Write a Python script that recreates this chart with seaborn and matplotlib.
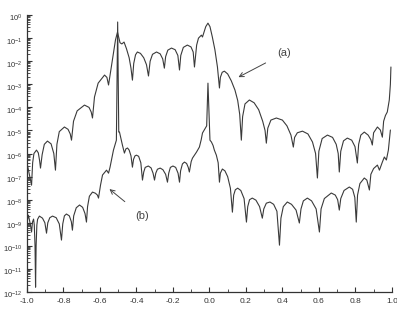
import numpy as np
import pandas as pd
import matplotlib
matplotlib.use("Agg")
import matplotlib.pyplot as plt
import matplotlib.ticker as mticker
from matplotlib.transforms import ScaledTranslation
import seaborn as sns

# ---- data: u (sine-space) and log10 of normalised power ----
u_a = [-1.0, -0.975, -0.969, -0.962, -0.948, -0.938, -0.931, -0.926,
       -0.917, -0.905, -0.888, -0.868, -0.853, -0.844,
       -0.836, -0.823, -0.795, -0.775, -0.763, -0.756,
       -0.745, -0.725, -0.685, -0.660, -0.648, -0.641,
       -0.630, -0.610, -0.575, -0.562, -0.553,
       -0.532, -0.515, -0.504, -0.490, -0.480, -0.468, -0.455, -0.440, -0.430, -0.422,
       -0.415, -0.405, -0.395, -0.378, -0.360, -0.345, -0.334,
       -0.325, -0.312, -0.290, -0.270, -0.256, -0.247,
       -0.240, -0.228, -0.208, -0.188, -0.173, -0.164,
       -0.157, -0.143, -0.121, -0.101, -0.089, -0.082,
       -0.070, -0.060, -0.044, -0.038, -0.030, -0.020, -0.008, 0.003, 0.016, 0.030, 0.044, 0.055,
       0.060, 0.070, 0.082, 0.100, 0.120, 0.140, 0.155, 0.166, 0.175,
       0.182, 0.195, 0.219, 0.245, 0.270, 0.292, 0.305, 0.312,
       0.320, 0.337, 0.367, 0.400, 0.425, 0.447, 0.460,
       0.467, 0.482, 0.510, 0.540, 0.565, 0.582, 0.592,
       0.600, 0.618, 0.647, 0.675, 0.695, 0.706, 0.712,
       0.720, 0.735, 0.756, 0.780, 0.798, 0.811,
       0.818, 0.830, 0.849, 0.870, 0.885, 0.893,
       0.900, 0.921, 0.937, 0.948,
       0.955, 0.965, 0.975, 0.986, 0.992, 0.995]
lev_a = [-6.41, -7.37, -6.40, -6.00, -5.85, -5.97, -6.30, -6.63,
         -6.05, -5.60, -5.46, -5.58, -6.00, -6.72,
         -5.60, -5.05, -4.85, -4.95, -5.15, -5.42,
         -4.60, -4.15, -3.90, -4.00, -4.20, -4.46,
         -3.55, -2.95, -2.60, -2.70, -3.03,
         -1.95, -1.08, -0.74, -1.20, -1.25, -1.17, -1.45, -1.85, -2.30, -2.82,
         -2.10, -1.72, -1.60, -1.66, -1.85, -2.15, -2.64,
         -2.00, -1.70, -1.60, -1.68, -1.90, -2.30,
         -1.80, -1.52, -1.43, -1.50, -1.75, -2.38,
         -1.75, -1.40, -1.30, -1.38, -1.60, -2.25,
         -1.30, -1.00, -0.87, -0.95, -0.75, -0.50, -0.35, -0.50, -0.95, -1.50, -2.25, -3.16,
         -2.70, -2.48, -2.43, -2.55, -2.85, -3.25, -3.70, -4.30, -5.42,
         -4.40, -3.85, -3.68, -3.80, -4.10, -4.60, -5.00, -5.55,
         -4.90, -4.55, -4.46, -4.55, -4.80, -5.20, -5.72,
         -5.30, -5.10, -5.03, -5.15, -5.50, -6.00, -7.06,
         -5.90, -5.35, -5.20, -5.30, -5.60, -6.00, -6.80,
         -5.90, -5.45, -5.33, -5.42, -5.70, -6.41,
         -5.60, -5.20, -5.07, -5.20, -5.40, -5.63,
         -5.10, -4.85, -4.98, -5.29,
         -4.60, -4.35, -4.20, -3.68, -3.00, -2.25]

u_b = [-1.0, -0.992, -0.981, -0.975, -0.970, -0.964, -0.960, -0.956, -0.953, -0.950, -0.946,
       -0.942, -0.932, -0.915, -0.902, -0.893,
       -0.886, -0.875, -0.860, -0.840, -0.823, -0.811,
       -0.804, -0.795, -0.784, -0.768, -0.757, -0.751,
       -0.744, -0.730, -0.712, -0.695, -0.682, -0.674,
       -0.668, -0.658, -0.641, -0.625, -0.614, -0.608,
       -0.597, -0.586, -0.564, -0.553, -0.545, -0.537, -0.526, -0.510, -0.503, -0.497,
       -0.493, -0.477, -0.466,
       -0.458, -0.449, -0.440, -0.430, -0.422,
       -0.416, -0.408, -0.400, -0.388, -0.376, -0.367,
       -0.360, -0.352, -0.335, -0.320, -0.309, -0.301,
       -0.294, -0.285, -0.270, -0.255, -0.240, -0.230,
       -0.223, -0.214, -0.200, -0.185, -0.172, -0.164,
       -0.158, -0.148, -0.137, -0.125, -0.116, -0.110,
       -0.100, -0.093, -0.071, -0.055, -0.045, -0.038, -0.022, -0.015, -0.008,
       0.003, 0.011, 0.020, 0.027, 0.038, 0.048, 0.055,
       0.060, 0.071, 0.085, 0.100, 0.115, 0.126,
       0.133, 0.142, 0.155, 0.172, 0.190, 0.203,
       0.210, 0.220, 0.235, 0.255, 0.275, 0.290,
       0.298, 0.312, 0.332, 0.352, 0.370, 0.384,
       0.392, 0.405, 0.427, 0.450, 0.475, 0.493,
       0.502, 0.515, 0.537, 0.560, 0.585, 0.603,
       0.612, 0.630, 0.668, 0.690, 0.703, 0.712,
       0.720, 0.738, 0.767, 0.785, 0.797, 0.805,
       0.812, 0.825, 0.849, 0.863, 0.877,
       0.885, 0.900, 0.921, 0.932,
       0.948, 0.959, 0.970, 0.981, 0.992]
lev_b = [-8.97, -8.67, -9.10, -9.40, -8.97, -8.84, -9.10, -10.00, -11.79, -10.00, -9.10,
         -8.85, -8.71, -8.80, -9.00, -9.45,
         -9.00, -8.78, -8.71, -8.78, -9.05, -9.75,
         -9.05, -8.70, -8.62, -8.70, -8.95, -9.32,
         -8.70, -8.35, -8.23, -8.33, -8.60, -8.97,
         -8.30, -7.85, -7.67, -7.72, -7.80, -7.93,
         -7.37, -6.93, -6.72, -6.85, -6.60, -6.28, -5.85, -5.42, -0.30, -5.07,
         -5.07, -5.63, -5.98,
         -5.80, -5.76, -5.85, -6.10, -6.59,
         -6.25, -6.10, -6.07, -6.12, -6.40, -7.15,
         -6.80, -6.60, -6.54, -6.62, -6.85, -7.15,
         -6.85, -6.68, -6.63, -6.70, -6.90, -7.24,
         -6.85, -6.60, -6.54, -6.60, -6.85, -7.24,
         -6.75, -6.45, -6.37, -6.43, -6.60, -6.80,
         -6.35, -6.20, -5.94, -5.72, -5.40, -5.11, -4.90, -4.80, -2.95,
         -5.42, -5.50, -5.65, -5.85, -6.07, -6.40, -7.24,
         -6.85, -6.67, -6.75, -7.00, -7.50, -8.54,
         -7.80, -7.57, -7.50, -7.60, -7.95, -8.97,
         -8.30, -8.00, -7.93, -8.02, -8.30, -8.80,
         -8.40, -8.15, -8.10, -8.20, -8.50, -9.97,
         -8.80, -8.30, -8.10, -8.20, -8.45, -9.01,
         -8.40, -8.05, -7.93, -8.05, -8.40, -9.40,
         -8.40, -7.95, -7.71, -7.80, -8.00, -8.45,
         -7.95, -7.60, -7.45, -7.55, -7.90, -8.97,
         -7.80, -7.30, -7.06, -7.15, -7.58,
         -6.90, -6.65, -6.50, -6.72,
         -6.37, -6.15, -6.28, -5.85, -4.98]

x_ticks = [-1.0, -0.8, -0.6, -0.4, -0.2, 0.0, 0.2, 0.4, 0.6, 0.8, 1.0]
y_exps = list(range(0, -13, -1))

df_a = pd.DataFrame({"u": u_a, "p": np.power(10.0, lev_a)})
df_b = pd.DataFrame({"u": u_b, "p": np.power(10.0, lev_b)})

sns.set_style("ticks")
plt.rcParams["font.family"] = ["Liberation Sans", "DejaVu Sans"]
plt.rcParams["mathtext.fontset"] = "custom"
plt.rcParams["mathtext.rm"] = "Liberation Sans"

fig = plt.figure(figsize=(3.97, 3.14), dpi=100)
ax = fig.add_axes([0.068, 0.070, 0.919, 0.882])

line_col = "#3a3a3a"
sns.lineplot(data=df_a, x="u", y="p", sort=False, estimator=None, ax=ax,
             color=line_col, linewidth=0.8)
sns.lineplot(data=df_b, x="u", y="p", sort=False, estimator=None, ax=ax,
             color=line_col, linewidth=0.8)

ax.set_yscale("log")
ax.set_xlim(-1.0, 1.0)
ax.set_ylim(1e-12, 1e0)
ax.set_xlabel("")
ax.set_ylabel("")

ax.set_xticks(x_ticks)
ax.xaxis.set_major_formatter(mticker.FormatStrFormatter("%.1f"))
ax.xaxis.set_minor_locator(mticker.MultipleLocator(0.1))
ax.set_yticks([10.0 ** e for e in y_exps])
ax.yaxis.set_major_formatter(mticker.LogFormatterSciNotation())
ax.yaxis.set_minor_locator(mticker.LogLocator(base=10, subs=np.arange(2, 10), numticks=200))
ax.yaxis.set_minor_formatter(mticker.NullFormatter())

ax.tick_params(axis="both", which="major", direction="in", length=3.5, width=0.8,
               colors="#333333")
ax.tick_params(axis="x", which="major", labelsize=6, pad=4.5)
ax.tick_params(axis="y", which="major", labelsize=5.5, pad=3.5)
ax.tick_params(axis="both", which="minor", direction="in", length=2, width=0.6,
               colors="#333333")
sns.despine(ax=ax)
for s in ["left", "bottom"]:
    ax.spines[s].set_color("#333333")
    ax.spines[s].set_linewidth(0.9)

# y labels sit slightly below their ticks, as in the reference
shift = ScaledTranslation(0, -2.5 / 100, fig.dpi_scale_trans)
for t in ax.yaxis.get_major_ticks():
    t.label1.set_transform(t.label1.get_transform() + shift)

ax.annotate("(a)", xy=(0.159, 10 ** -2.69), xytext=(0.411, 10 ** -1.65),
            fontsize=8, color="#444444", ha="center", va="center",
            arrowprops=dict(arrowstyle="->", color="#444444", lw=0.7,
                            shrinkA=7, shrinkB=0))
ax.annotate("(b)", xy=(-0.548, 10 ** -7.54), xytext=(-0.367, 10 ** -8.71),
            fontsize=8, color="#444444", ha="center", va="center",
            arrowprops=dict(arrowstyle="->", color="#444444", lw=0.7,
                            shrinkA=7, shrinkB=0))

fig.savefig("out.png", dpi=100)
